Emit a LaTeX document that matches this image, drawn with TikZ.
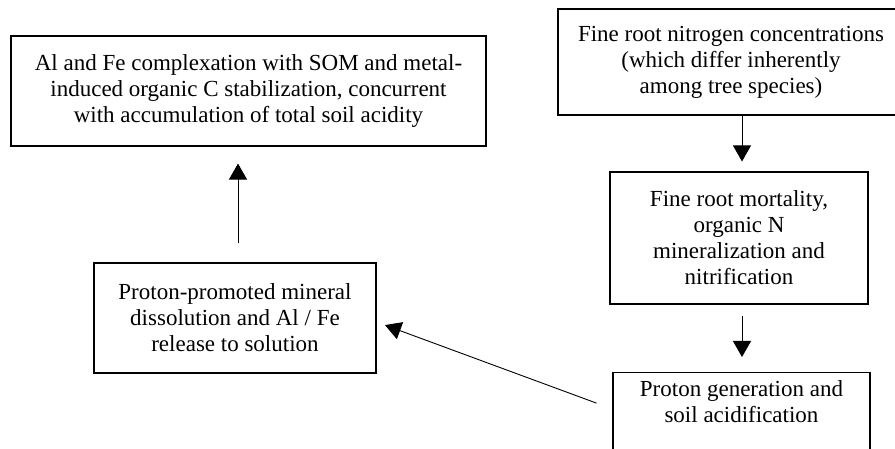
\documentclass[tikz,border=0pt]{standalone}
\usepackage{fontspec}
\setmainfont{Liberation Serif}
\usetikzlibrary{arrows.meta}

\begin{document}
\begin{tikzpicture}[x=1pt, y=-1pt]
        \tikzstyle{box}=[draw, line width=1.1pt, align=center, inner sep=4pt, font=\fontsize{23}{26}\selectfont]
        \tikzstyle{arr}=[-{Triangle[length=16pt, width=18pt]}, line width=0.9pt]

        \useasboundingbox (0,0) rectangle (895,449);

        \node (complex) [box, minimum width=475, minimum height=110] at (248.5,91)
            {Al and Fe complexation with SOM and metal-\\induced organic C stabilization, concurrent\\with accumulation of total soil acidity};
        \node (rootN)   [box, minimum width=346, minimum height=106] at (731,62)
            {Fine root nitrogen concentrations\\(which differ inherently\\among tree species)};
        \node (mort)    [box, minimum width=258, minimum height=132] at (739,238)
            {Fine root mortality,\\organic N\\mineralization and\\nitrification};
        \node (proton)  [box, minimum width=257, anchor=north, inner ysep=8pt, text depth=70pt] at (741.5,372)
            {Proton generation and\\soil acidification};
        \node (dissol)  [box, minimum width=282, minimum height=110] at (235,318)
            {Proton-promoted mineral\\dissolution and Al / Fe\\release to solution};

        \path[arr]  (rootN.south -| 742,0) edge [shorten >=10pt] (mort.north -| 742,0)
                    (mort.south -| 742,0) edge [shorten <=11pt, shorten >=15pt] (proton.north -| 742,0)
                    (proton.west |- 0,409) edge [shorten <=17pt, shorten >=9pt] (dissol.east |- 0,322)
                    (dissol.north -| 238,0) edge [shorten <=19pt, shorten >=17pt] (complex.south -| 238,0);

    \end{tikzpicture}
\end{document}
